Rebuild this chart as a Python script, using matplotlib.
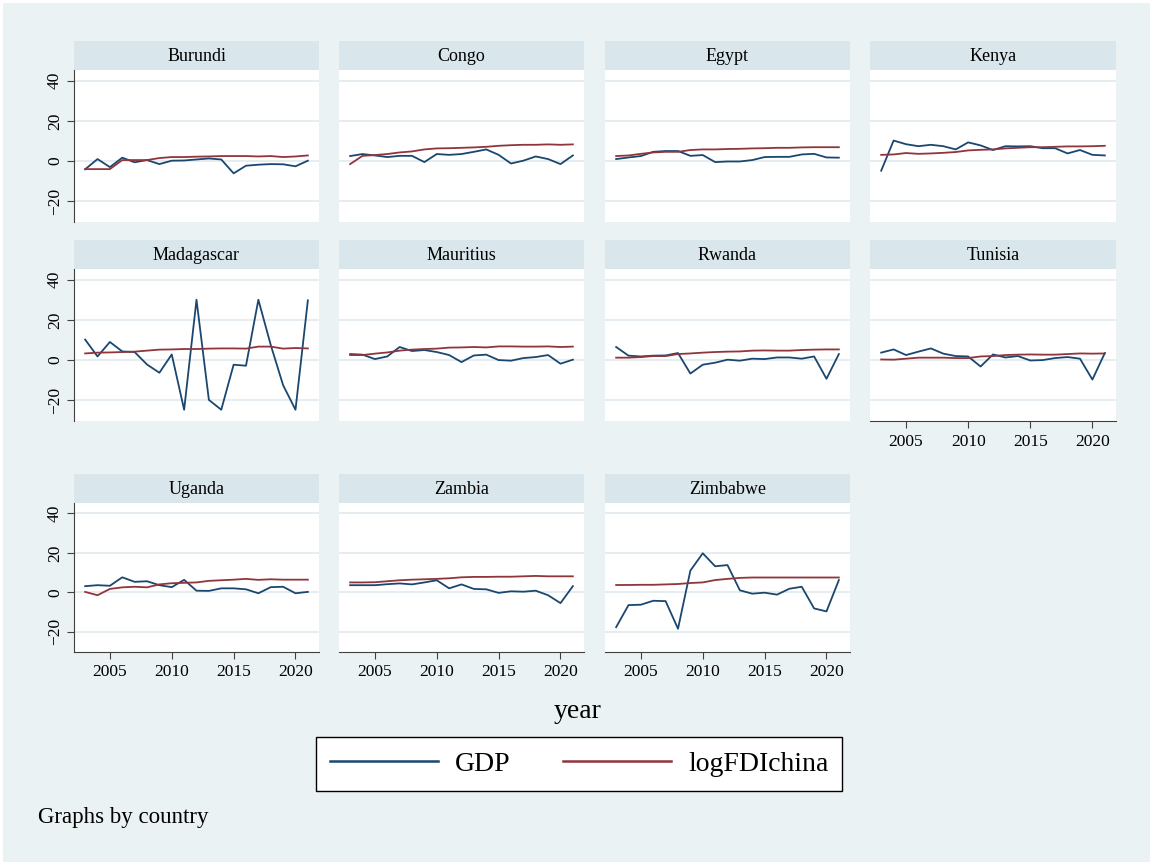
import matplotlib.pyplot as plt
from matplotlib.patches import Rectangle
from matplotlib.lines import Line2D

plt.rcParams["font.family"] = ["Liberation Serif", "DejaVu Serif"]

years = list(range(2003, 2022))

countries = ["Burundi", "Congo", "Egypt", "Kenya", "Madagascar", "Mauritius",
             "Rwanda", "Tunisia", "Uganda", "Zambia", "Zimbabwe"]

# GDP growth per country
gdp_burundi = [-4.1, 1.0, -3.0, 1.7, -0.6, 0.5, -1.5, 0.2, 0.3, 0.8, 1.3, 0.8, -6.1, -2.3, -1.8, -1.5, -1.6, -2.6, 0.2]
gdp_congo = [2.5, 3.5, 2.8, 2.0, 2.6, 2.6, -0.5, 3.5, 3.1, 3.5, 4.6, 5.8, 3.1, -1.2, 0.2, 2.3, 1.0, -1.5, 2.8]
gdp_egypt = [1.0, 1.8, 2.5, 4.6, 5.0, 5.0, 2.6, 3.0, -0.5, -0.2, -0.2, 0.5, 2.0, 2.1, 2.1, 3.3, 3.6, 1.8, 1.7]
gdp_kenya = [-4.8, 10.2, 8.4, 7.4, 8.1, 7.4, 5.8, 9.3, 7.8, 5.5, 7.4, 7.3, 7.4, 6.4, 6.4, 3.8, 5.5, 3.1, 2.8]
gdp_madagascar = [10.2, 1.8, 9.0, 4.3, 4.0, -2.2, -6.3, 2.8, -24.7, 30.0, -19.8, -24.7, -2.3, -2.8, 30.0, 7.5, -12.5, -24.7, 29.7]
gdp_mauritius = [3.0, 2.7, 0.5, 1.8, 6.5, 4.5, 5.0, 4.0, 2.5, -1.0, 2.3, 2.7, 0.0, -0.3, 1.0, 1.5, 2.5, -1.8, 0.2]
gdp_rwanda = [6.5, 2.2, 1.8, 2.2, 2.3, 3.5, -6.7, -2.3, -1.3, 0.2, -0.3, 0.7, 0.5, 1.3, 1.3, 0.7, 1.8, -9.3, 3.0]
gdp_tunisia = [3.7, 5.3, 2.5, 4.2, 5.8, 3.2, 2.0, 1.8, -3.2, 2.8, 1.3, 2.0, -0.2, 0.0, 1.0, 1.5, 0.7, -9.7, 3.5]
gdp_uganda = [3.1, 3.6, 3.3, 7.6, 5.3, 5.6, 3.6, 2.6, 6.3, 0.8, 0.7, 2.0, 2.0, 1.5, -0.5, 2.6, 2.8, -0.5, 0.2]
gdp_zambia = [3.6, 3.6, 3.6, 4.1, 4.5, 4.0, 5.0, 6.1, 2.0, 4.0, 1.7, 1.5, -0.3, 0.5, 0.3, 0.8, -1.5, -5.5, 3.1]
gdp_zimbabwe = [-17.7, -6.5, -6.3, -4.3, -4.5, -18.5, 11.0, 19.8, 13.2, 13.8, 1.0, -0.7, -0.2, -1.2, 1.8, 2.8, -8.2, -9.7, 6.2]

# log FDI from China
fdi_burundi = [-4.0, -4.0, -4.0, 0.5, 0.5, 0.5, 1.5, 2.0, 2.0, 2.2, 2.3, 2.5, 2.5, 2.5, 2.3, 2.5, 2.0, 2.3, 2.8]
fdi_congo = [-1.5, 2.6, 3.0, 3.5, 4.3, 4.8, 5.8, 6.3, 6.4, 6.6, 6.8, 7.1, 7.6, 7.9, 8.1, 8.1, 8.3, 8.1, 8.3]
fdi_egypt = [2.5, 2.8, 3.6, 4.3, 4.6, 4.6, 5.5, 5.8, 5.8, 6.0, 6.1, 6.3, 6.4, 6.6, 6.6, 6.8, 6.9, 6.9, 6.9]
fdi_kenya = [3.1, 3.3, 4.0, 3.6, 3.8, 4.1, 4.5, 5.3, 5.6, 5.8, 6.3, 6.6, 6.9, 6.9, 7.1, 7.3, 7.3, 7.4, 7.6]
fdi_madagascar = [3.3, 3.7, 3.8, 4.0, 4.2, 4.7, 5.2, 5.3, 5.5, 5.5, 5.7, 5.8, 5.8, 5.7, 6.7, 6.7, 5.7, 6.0, 5.8]
fdi_mauritius = [2.5, 2.5, 3.2, 3.8, 4.7, 5.2, 5.5, 5.7, 6.2, 6.3, 6.5, 6.3, 6.8, 6.8, 6.7, 6.7, 6.8, 6.5, 6.7]
fdi_rwanda = [1.2, 1.2, 1.5, 2.0, 2.0, 3.0, 3.3, 3.7, 4.0, 4.2, 4.3, 4.7, 4.8, 4.7, 4.7, 5.0, 5.2, 5.3, 5.3]
fdi_tunisia = [0.3, 0.2, 0.7, 1.2, 1.2, 1.2, 1.0, 1.0, 1.8, 2.0, 2.5, 2.7, 2.8, 2.7, 2.7, 3.0, 3.3, 3.2, 3.3]
fdi_uganda = [0.2, -1.5, 1.7, 2.5, 2.8, 2.5, 4.0, 4.6, 4.8, 5.0, 5.8, 6.1, 6.4, 6.8, 6.3, 6.6, 6.4, 6.4, 6.4]
fdi_zambia = [5.0, 5.0, 5.1, 5.6, 6.1, 6.4, 6.6, 6.8, 7.1, 7.6, 7.8, 7.8, 7.9, 7.9, 8.1, 8.3, 8.1, 8.1, 8.1]
fdi_zimbabwe = [3.7, 3.7, 3.8, 3.8, 4.0, 4.2, 4.7, 5.0, 6.2, 6.8, 7.3, 7.5, 7.5, 7.5, 7.5, 7.5, 7.5, 7.5, 7.5]

gdp_list = [gdp_burundi, gdp_congo, gdp_egypt, gdp_kenya, gdp_madagascar, gdp_mauritius,
            gdp_rwanda, gdp_tunisia, gdp_uganda, gdp_zambia, gdp_zimbabwe]
fdi_list = [fdi_burundi, fdi_congo, fdi_egypt, fdi_kenya, fdi_madagascar, fdi_mauritius,
            fdi_rwanda, fdi_tunisia, fdi_uganda, fdi_zambia, fdi_zimbabwe]

W, H = 1153, 865
BG = "#EAF2F3"
STRIP = "#D9E6EB"
NAVY = "#1A476F"
MAROON = "#90353B"
AXC = "#404040"

fig = plt.figure(figsize=(W / 100, H / 100), dpi=100, facecolor="white")
fig.patches.append(Rectangle((3 / W, 3 / H), 1 - 6 / W, 1 - 6 / H,
                             transform=fig.transFigure, facecolor=BG,
                             edgecolor="none", zorder=-10))


def px_axes(x0, y0, x1, y1):
    return fig.add_axes([x0 / W, 1 - y1 / H, (x1 - x0) / W, (y1 - y0) / H])


col_x = [(74, 319), (339, 584), (605, 850), (870, 1116)]
row_y = [(41, 70, 222), (240, 269, 421), (474, 503, 652)]

for i, name in enumerate(countries):
    r, c = divmod(i, 4)
    x0, x1 = col_x[c]
    s0, p0, p1 = row_y[r]

    # title strip
    st = px_axes(x0, s0, x1, p0)
    st.set_facecolor(STRIP)
    st.set_xticks([])
    st.set_yticks([])
    for sp in st.spines.values():
        sp.set_visible(False)
    st.text(0.5, 0.48, name, ha="center", va="center", fontsize=13,
            transform=st.transAxes)

    ax = px_axes(x0, p0, x1, p1)
    ax.set_facecolor("white")
    ax.plot(years, gdp_list[i], color=NAVY, lw=1.3, zorder=3)
    ax.plot(years, fdi_list[i], color=MAROON, lw=1.3, zorder=3)
    ax.set_xlim(2002.1, 2021.9)
    ax.set_ylim(-30.3, 45.3)
    ax.set_yticks([-20, 0, 20, 40])
    ax.set_xticks([2005, 2010, 2015, 2020])
    ax.grid(axis="y", color="#E4ECEF", lw=1.3, zorder=1)
    for sp in ax.spines.values():
        sp.set_visible(False)

    show_y = c == 0
    show_x = r == 2 or name == "Tunisia"
    if show_y:
        ax.spines["left"].set_visible(True)
        ax.spines["left"].set_color(AXC)
        ax.tick_params(axis="y", length=5, color=AXC, labelsize=12.5, pad=3)
        for lab in ax.get_yticklabels():
            lab.set_rotation(90)
            lab.set_va("center")
    else:
        ax.tick_params(axis="y", length=0, labelleft=False)
    if show_x:
        ax.spines["bottom"].set_visible(True)
        ax.spines["bottom"].set_color(AXC)
        ax.tick_params(axis="x", length=5, color=AXC, labelsize=12.5, pad=4)
    else:
        ax.tick_params(axis="x", length=0, labelbottom=False)

fig.text(578 / W, 1 - 711 / H, "year", ha="center", va="center", fontsize=20)

handles = [Line2D([], [], color=NAVY, lw=1.8), Line2D([], [], color=MAROON, lw=1.8)]
leg = fig.legend(handles, ["GDP", "logFDIchina"], ncol=2, fontsize=20,
                 loc="center", bbox_to_anchor=(579 / W, 1 - 764 / H),
                 frameon=True, fancybox=False, edgecolor="black",
                 facecolor="white", framealpha=1,
                 handlelength=3.9, columnspacing=1.9, handletextpad=0.6,
                 borderpad=0.5, borderaxespad=0)
leg.get_frame().set_linewidth(1.0)

fig.text(38 / W, 1 - 818 / H, "Graphs by country", ha="left", va="center", fontsize=16.5)

fig.savefig("out.png", dpi=100, facecolor=fig.get_facecolor())
